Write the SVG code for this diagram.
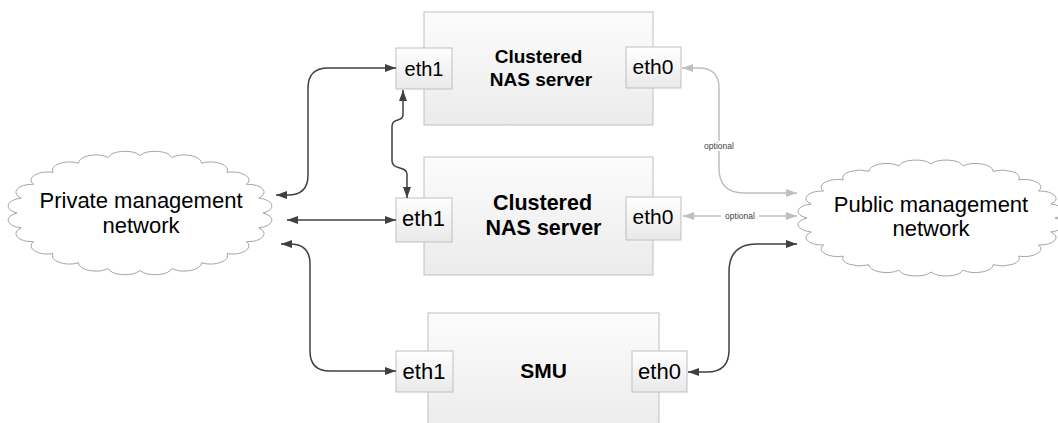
<svg xmlns="http://www.w3.org/2000/svg" width="1058" height="423" viewBox="0 0 1058 423">
<style>
.box{fill:url(#g);stroke:#bfbfbf;stroke-width:1}
.port{fill:url(#gp);stroke:#bfbfbf;stroke-width:1}
.cloud{fill:#fff;stroke:#a6a6a6;stroke-width:1}
.t{font-family:"Liberation Sans",Arial,sans-serif;fill:#000;text-anchor:middle}
.b{font-weight:bold}
.dk{fill:none;stroke:#404040;stroke-width:1.5;marker-start:url(#ad);marker-end:url(#ad)}
.lt{fill:none;stroke:#bfbfbf;stroke-width:1.5;marker-start:url(#al);marker-end:url(#al)}
.opt{font-family:"Liberation Sans",Arial,sans-serif;font-size:8.5px;fill:#404040;text-anchor:middle}
</style>
<defs>
<linearGradient id="g" x1="0" y1="0" x2="0" y2="1"><stop offset="0" stop-color="#fcfcfc"/><stop offset="1" stop-color="#ebebeb"/></linearGradient>
<linearGradient id="gp" x1="0" y1="0" x2="0" y2="1"><stop offset="0" stop-color="#ffffff"/><stop offset="1" stop-color="#e9e9e9"/></linearGradient>
<marker id="ad" markerUnits="userSpaceOnUse" markerWidth="12" markerHeight="10" refX="11" refY="5" orient="auto-start-reverse"><path d="M0,1 L11,5 L0,9 Z" fill="#404040"/></marker>
<marker id="al" markerUnits="userSpaceOnUse" markerWidth="12" markerHeight="10" refX="11" refY="5" orient="auto-start-reverse"><path d="M0,1 L11,5 L0,9 Z" fill="#bfbfbf"/></marker>
<path id="cl" vector-effect="non-scaling-stroke" d="M100,0 A14,14 0 0 1 96.59,25.88 A14,14 0 0 1 86.6,50 A14,14 0 0 1 70.71,70.71 A14,14 0 0 1 50,86.6 A14,14 0 0 1 25.88,96.59 A14,14 0 0 1 0,100 A14,14 0 0 1 -25.88,96.59 A14,14 0 0 1 -50,86.6 A14,14 0 0 1 -70.71,70.71 A14,14 0 0 1 -86.6,50 A14,14 0 0 1 -96.59,25.88 A14,14 0 0 1 -100,0 A14,14 0 0 1 -96.59,-25.88 A14,14 0 0 1 -86.6,-50 A14,14 0 0 1 -70.71,-70.71 A14,14 0 0 1 -50,-86.6 A14,14 0 0 1 -25.88,-96.59 A14,14 0 0 1 0,-100 A14,14 0 0 1 25.88,-96.59 A14,14 0 0 1 50,-86.6 A14,14 0 0 1 70.71,-70.71 A14,14 0 0 1 86.6,-50 A14,14 0 0 1 96.59,-25.88 A14,14 0 0 1 100,0 Z"/>
</defs>

<g id="private-cloud">
<use href="#cl" class="cloud" transform="translate(140,213) scale(1.23,0.575)"/>
<text class="t" x="141" y="208" font-size="22">Private management</text>
<text class="t" x="141" y="233" font-size="22">network</text>
</g>

<g id="public-cloud">
<use href="#cl" class="cloud" transform="translate(931,218) scale(1.24,0.54)"/>
<text class="t" x="931" y="212" font-size="22">Public management</text>
<text class="t" x="931" y="236" font-size="22">network</text>
</g>

<g id="nas1">
<rect class="box" x="424" y="12" width="229" height="113"/>
<text class="t b" x="538.5" y="63" font-size="19">Clustered</text>
<text class="t b" x="541" y="86" font-size="19">NAS server</text>
<rect class="port" x="396" y="48" width="56" height="41"/>
<text class="t" x="424" y="76" font-size="20">eth1</text>
<rect class="port" x="626" y="47" width="55" height="41"/>
<text class="t" x="653" y="74" font-size="21">eth0</text>
</g>

<g id="nas2">
<rect class="box" x="424" y="157" width="229" height="118"/>
<text class="t b" x="542.5" y="210" font-size="21.5">Clustered</text>
<text class="t b" x="543.5" y="235" font-size="21.5">NAS server</text>
<rect class="port" x="396" y="198" width="56" height="44"/>
<text class="t" x="423.5" y="226" font-size="22">eth1</text>
<rect class="port" x="626" y="197" width="55" height="43"/>
<text class="t" x="653" y="224" font-size="21">eth0</text>
</g>

<g id="smu">
<rect class="box" x="428" y="313" width="231" height="120"/>
<text class="t b" x="543.5" y="378" font-size="21">SMU</text>
<rect class="port" x="396" y="351" width="57" height="41"/>
<text class="t" x="424" y="379" font-size="22">eth1</text>
<rect class="port" x="632" y="351" width="55" height="41"/>
<text class="t" x="659.5" y="379" font-size="22">eth0</text>
</g>

<g id="connectors">
<path class="dk" d="M276,195 H288 Q308,195 308,175 V88 Q308,68 328,68 H396"/>
<path class="dk" d="M287,220 H396"/>
<path class="dk" d="M281,244 H290 Q310,244 310,264 V351 Q310,371 330,371 H396"/>
<path class="dk" d="M403,90 V115 C403,122 392,118 392,126 V161 C392,170 407,166 407,174 V198"/>
<path class="dk" d="M688,372 H707 Q729,372 729,350 V272 Q729,244 757,244 H797"/>
<path class="lt" d="M682,68 H699 Q719,68 719,88 V168 Q719,193 744,193 H797"/>
<path class="lt" d="M683,216 H797"/>
<rect x="700" y="141" width="38" height="10" fill="#fff"/>
<text class="opt" x="719" y="149">optional</text>
<rect x="721" y="211" width="38" height="10" fill="#fff"/>
<text class="opt" x="740" y="219">optional</text>
</g>
</svg>
